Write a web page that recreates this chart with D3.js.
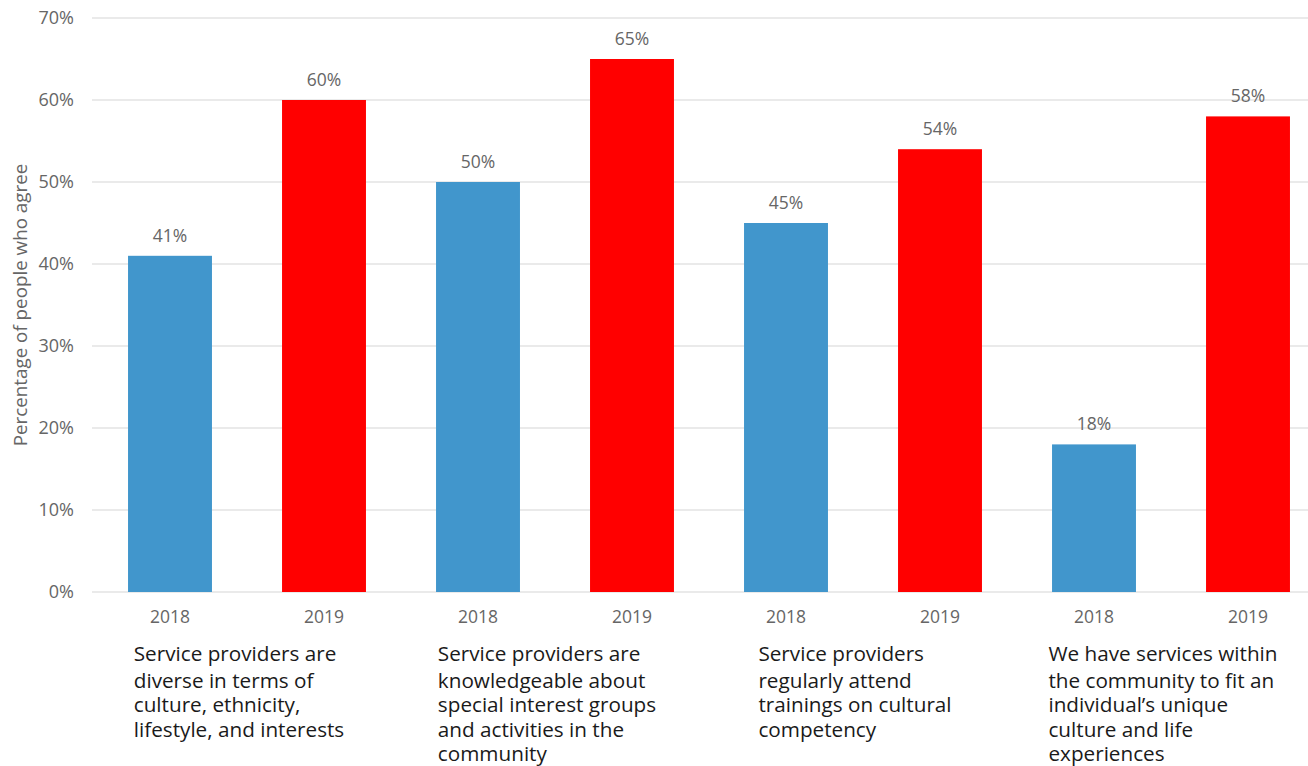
<!DOCTYPE html>
<html><head><meta charset="utf-8">
<script src="https://cdn.jsdelivr.net/npm/d3@7"></script>
<style>
body{margin:0;background:#fff;}
text{font-family:"Open Sans",sans-serif;}
</style></head>
<body>
<svg id="chart" width="1308" height="766"></svg>
<script>
const groups = [
  ["Service providers are","diverse in terms of","culture, ethnicity,","lifestyle, and interests"],
  ["Service providers are","knowledgeable about","special interest groups","and activities in the","community"],
  ["Service providers","regularly attend","trainings on cultural","competency"],
  ["We have services within","the community to fit an","individual\u2019s unique","culture and life","experiences"]
];
const years = ["2018","2019"];
const values2018 = [41, 50, 45, 18];
const values2019 = [60, 65, 54, 58];
const yTicks = [0,10,20,30,40,50,60,70];
const yTitle = "Percentage of people who agree";

(function(){
const svg = d3.select("#chart");
const mLeft = 93, mRight = 1325, mTop = 18, mBottom = 592;
const slots = [];
groups.forEach((g,i)=>{ slots.push({g:i,yr:0,v:values2018[i]}); slots.push({g:i,yr:1,v:values2019[i]}); });
const x = d3.scaleBand().domain(slots.map((d,i)=>i)).range([mLeft,mRight]).paddingInner(0.455).paddingOuter(0.2275);
const y = d3.scaleLinear().domain([0,70]).range([mBottom, mTop]);
const colors = ["#4196cc","#ff0000"];

svg.append("g").selectAll("line").data(yTicks).join("line")
  .attr("x1",92).attr("x2",1308).attr("y1",d=>y(d)).attr("y2",d=>y(d))
  .attr("stroke","#e3e3e3").attr("stroke-width",1.5);

const yAxis = d3.axisLeft(y).tickValues(yTicks).tickFormat(d=>d+"%").tickSize(0).tickPadding(18);
const ya = svg.append("g").attr("transform",`translate(92,0)`).call(yAxis);
ya.select(".domain").remove();
ya.selectAll("text").attr("font-size",18).attr("fill","#666").attr("font-family","Open Sans");

svg.append("text").attr("transform","translate(27,305) rotate(-90)")
  .attr("text-anchor","middle").attr("font-size",18.8).attr("fill","#666").text(yTitle);

svg.append("g").selectAll("rect").data(slots).join("rect")
  .attr("x",(d,i)=>x(i)).attr("width",x.bandwidth())
  .attr("y",d=>y(d.v)).attr("height",d=>y(0)-y(d.v))
  .attr("fill",d=>colors[d.yr]);

svg.append("g").selectAll("text").data(slots).join("text")
  .attr("x",(d,i)=>x(i)+x.bandwidth()/2).attr("y",d=>y(d.v)-14)
  .attr("text-anchor","middle").attr("font-size",17.5).attr("fill","#666")
  .text(d=>d.v+"%");

const xAxis = d3.axisBottom(x).tickFormat(i=>years[slots[i].yr]).tickSize(0).tickPadding(19);
const xa = svg.append("g").attr("transform",`translate(0,${mBottom})`).call(xAxis);
xa.select(".domain").remove();
xa.selectAll("text").attr("font-size",17.5).attr("fill","#666").attr("font-family","Open Sans");

groups.forEach((lines,gi)=>{
  const cx = (x(gi*2)+x(gi*2+1)+x.bandwidth())/2;
  const t = svg.append("text").attr("font-size",20.7).attr("fill","#1a1a1a");
  lines.forEach((ln,li)=>{
    t.append("tspan").attr("y",li===0 ? 661 : 664 + li*24.2).text(ln);
  });
  let maxW = 0;
  t.selectAll("tspan").each(function(){ maxW = Math.max(maxW,this.getComputedTextLength()); });
  const lx = Math.min(cx - maxW/2 - 8, 1293 - maxW);
  t.selectAll("tspan").attr("x",lx);
});
})();
</script>
</body></html>
